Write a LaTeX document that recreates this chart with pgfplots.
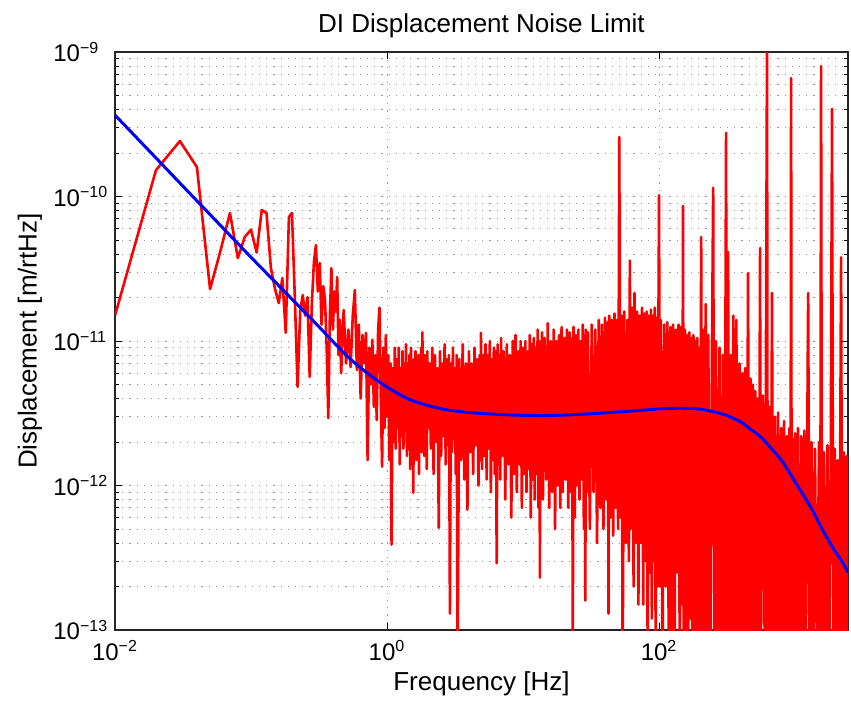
\documentclass[border=0pt]{standalone}
\usepackage{pgfplots}
\pgfplotsset{compat=1.18}
\usepackage{fontspec}
\setmainfont{Liberation Sans}
\begin{document}
\begin{tikzpicture}
\useasboundingbox (-57.5pt,-36pt) rectangle (368pt,315pt);
\begin{axis}[
  scale only axis, width=366.5pt, height=289pt,
  xmode=log, ymode=log,
  xmin=0.01, xmax=2450, ymin=1e-13, ymax=1e-9,
  xtick={0.01,1,100},
  xticklabels={10\textsuperscript{−2},10\textsuperscript{0},10\textsuperscript{2}},
  minor xtick={},
  ytick={1e-13,1e-12,1e-11,1e-10,1e-9},
  yticklabels={10\textsuperscript{−13},10\textsuperscript{−12},10\textsuperscript{−11},10\textsuperscript{−10},10\textsuperscript{−9}},
  minor ytick={2e-13,3e-13,4e-13,5e-13,6e-13,7e-13,8e-13,9e-13,
               2e-12,3e-12,4e-12,5e-12,6e-12,7e-12,8e-12,9e-12,
               2e-11,3e-11,4e-11,5e-11,6e-11,7e-11,8e-11,9e-11,
               2e-10,3e-10,4e-10,5e-10,6e-10,7e-10,8e-10,9e-10},
  xmajorgrids, ymajorgrids, yminorgrids,
  major grid style={black!40, dash pattern=on 0.6pt off 3pt, line width=0.5pt},
  minor grid style={black!40, dash pattern=on 0.6pt off 3pt, line width=0.5pt},
  tick align=inside,
  major tick length=3.5pt, minor tick length=2pt,
  every tick/.style={black, line width=0.5pt},
  axis line style={black!85, line width=0.6pt},
  ticklabel style={font=\fontsize{12}{14}\selectfont},
  xticklabel style={anchor=north, inner sep=0pt, yshift=-5pt},
  yticklabel style={anchor=west, inner sep=0pt, xshift=-31pt},
  title={DI Displacement Noise Limit},
  title style={at={(axis description cs:0.5,1.0346)}, anchor=base, yshift=-6pt, inner sep=0pt, font=\fontsize{13}{15}\selectfont},
  xlabel={Frequency [Hz]},
  xlabel style={at={(axis description cs:0.5,-0.1038)}, anchor=base, inner sep=0pt, font=\fontsize{13}{15}\selectfont},
  ylabel={Displacement [m/rtHz]},
  ylabel style={at={(axis description cs:-0.116,0.5)}, anchor=center, inner sep=0pt, font=\fontsize{13}{15}\selectfont},
]
\addplot[red, line width=1.3pt, line join=round] coordinates {
(0.01,1.5e-11)(0.02,1.52e-10)(0.03,2.42e-10)(0.04,1.6e-10)(0.05,2.29e-11)
(0.06,4.3e-11)(0.07,7.7e-11)(0.08,3.75e-11)(0.09,5.25e-11)(0.10,5.9e-11)
(0.11,4.1e-11)(0.12,8.07e-11)(0.13,7.69e-11)(0.14,3.2e-11)(0.15,2.3e-11)
(0.16,1.83e-11)(0.17,2.73e-11)(0.18,1.14e-11)(0.19,7.21e-11)(0.20,7.69e-11)
(0.21,2.0e-11)(0.22,4.81e-12)(0.23,1.6e-11)(0.24,2.08e-11)(0.25,1.5e-11)
(0.26,2.01e-11)(0.27,5.64e-12)(0.28,1.8e-11)(0.29,3.5e-11)(0.30,4.61e-11)
(0.31,2.2e-11)(0.32,3.47e-11)(0.33,1.3e-11)(0.34,2.4e-11)(0.35,1.92e-11)
(0.36,9e-12)(0.37,2.93e-12)(0.38,1.5e-11)(0.39,3.2e-11)(0.40,1.2e-11)
(0.41,2.2e-11)(0.42,1.6e-11)(0.43,2.77e-11)(0.44,8e-12)(0.45,1.4e-11)
(0.46,6e-12)(0.48,1.64e-11)(0.50,7e-12)(0.52,1.2e-11)(0.54,6.6e-12)
(0.56,1.5e-11)(0.58,2.25e-11)(0.60,6.3e-12)(0.62,1.3e-11)(0.64,4e-12)
(0.66,1.1e-11)(0.68,7e-12)(0.70,1.14e-11)(0.72,1.5e-12)(0.74,9e-12)
(0.76,5e-12)(0.78,1.02e-11)(0.80,3.5e-12)(0.82,8e-12)(0.84,2.84e-12)
(0.86,1.2e-11)(0.88,1.7e-11)(0.90,4e-12)(0.92,1.35e-12)(0.94,9e-12)
(0.96,2.5e-12)(0.98,1.1e-11)(1.00,3e-12)
(1.02,8e-12)(1.04,1.5e-12)(1.06,7e-12)(1.08,3.9e-13)(1.10,6.5e-12)
(1.12,2e-12)(1.14,9e-12)(1.16,1.8e-12)(1.18,7.5e-12)(1.20,2.5e-12)
(1.22,9e-12)(1.24,1.4e-12)(1.26,6.5e-12)(1.28,2.2e-12)(1.30,8.5e-12)
(1.32,1.8e-12)(1.34,7e-12)(1.36,2.4e-12)(1.38,9.5e-12)(1.40,1.6e-12)
(1.42,7e-12)(1.44,2.2e-12)(1.46,8e-12)(1.48,1.3e-12)(1.50,9e-12)
(1.52,2e-12)(1.54,7e-12)(1.56,8.9e-13)(1.58,7.5e-12)(1.60,2.3e-12)
(1.62,8.5e-12)(1.64,1.5e-12)(1.66,7e-12)(1.68,2.4e-12)(1.70,8e-12)
(1.72,1.2e-12)(1.74,6.5e-12)(1.76,2e-12)(1.78,9e-12)(1.80,1.7e-12)
(1.82,1.15e-11)(1.84,2.4e-12)(1.86,7.5e-12)(1.88,1.6e-12)(1.90,8e-12)
(1.92,2.2e-12)(1.94,7e-12)(1.96,1.3e-12)(1.98,8.5e-12)(2.00,2.5e-12)
(2.05,7e-12)(2.10,1.8e-12)(2.15,9e-12)(2.20,1.2e-12)(2.25,8e-12)
(2.30,2e-12)(2.35,6.5e-12)(2.40,5.1e-13)(2.45,8.5e-12)(2.50,1.6e-12)
(2.55,7e-12)(2.60,2.2e-12)(2.65,9.5e-12)(2.70,1.4e-12)(2.75,7.5e-12)
(2.80,1.9e-12)(2.85,8e-12)(2.90,1.3e-13)(2.95,7e-12)(3.00,1.7e-12)
(3.05,9e-12)(3.10,2.1e-12)(3.15,6.5e-12)(3.20,1.2e-12)(3.25,8e-12)
(3.30,5e-14)(3.4,7.5e-12)(3.5,1.5e-12)(3.6,9.5e-12)(3.7,1.1e-12)
(3.8,7e-12)(3.9,6.8e-13)(4.0,8.5e-12)(4.1,1.7e-12)(4.2,7e-12)
(4.3,1.2e-12)(4.4,9e-12)(4.5,1.9e-12)(4.6,7.5e-12)(4.7,1e-12)
(4.8,8e-12)(4.85,1.5e-12)(4.9,1.14e-11)(5.0,1.3e-12)
(5.1,8e-12)(5.2,1.6e-12)(5.3,9.5e-12)(5.4,1.1e-12)(5.5,8e-12)
(5.6,1.8e-12)(5.7,1e-11)(5.8,9e-13)(5.9,7.5e-12)(6.0,1.5e-12)
(6.1,9e-12)(6.2,1.2e-12)(6.3,8.5e-12)(6.4,2.9e-13)(6.5,9.5e-12)
(6.6,1.4e-12)(6.7,8e-12)(6.8,1.1e-12)(6.9,1.05e-11)(7.0,1.6e-12)
(7.2,8.5e-12)(7.4,8e-13)(7.6,9.5e-12)(7.8,1.4e-12)(8.0,8e-12)
(8.2,6e-13)(8.4,1e-11)(8.6,1.2e-12)(8.8,1.1e-11)(9.0,9e-13)
(9.2,8.5e-12)(9.4,1.4e-12)(9.6,1e-11)(9.8,7e-13)(10.0,9e-12)
(10.2,1.2e-12)(10.4,1e-11)(10.6,9e-13)(10.8,8.5e-12)(11.0,1.3e-12)
(11.2,1.1e-11)(11.4,6e-13)(11.6,9.5e-12)(11.8,1.1e-12)(12.0,1.05e-11)
(12.2,8e-13)(12.4,9e-12)(12.6,1.2e-12)(12.8,1.2e-11)(13.0,7e-13)
(13.2,1e-11)(13.3,2.3e-13)(13.4,9.5e-12)(13.6,1e-12)(13.8,1.15e-11)
(14.0,8e-13)(14.4,1.05e-11)(14.8,1.1e-12)(15.2,1.33e-11)(15.6,7e-13)
(16.0,1e-11)(16.4,9e-13)(16.8,1.2e-11)(17.2,5e-13)(17.6,1e-11)
(18.0,1e-12)(18.4,1.1e-11)(18.8,7e-13)(19.2,1.25e-11)(19.6,9e-13)
(20.0,1.05e-11)
(20.5,1.1e-12)(21.0,1.2e-11)(21.5,7e-13)(22.0,1.15e-11)(22.5,9e-13)
(23.0,1.05e-11)(23.2,5e-14)(23.5,1.25e-11)(24.0,6e-13)(24.5,1.1e-11)
(25.0,1e-12)(25.5,1.2e-11)(26.0,8e-13)(26.5,1e-11)(27.0,1.1e-12)
(27.5,1.3e-11)(28.0,5e-13)(28.5,1.1e-11)(28.7,1.6e-13)(29.0,1.2e-11)
(29.5,9e-13)(30.0,1.15e-11)
(31,5e-13)(32,1.3e-11)(33,9e-13)(34,1.2e-11)(35,4e-13)
(36,1.4e-11)(37,7e-13)(38,1.3e-11)(39,5e-13)(40,1.45e-11)
(41,8e-13)(42,1.35e-11)(42.5,1.3e-13)(43,1.5e-11)(44,6e-13)
(45,1.4e-11)(46,4.5e-13)(47,1.55e-11)(48,7e-13)(49,1.4e-11)
(50,5e-13)(51,2.58e-10)(52,6e-13)
(53,1.5e-11)(54,5e-14)(55.5,1.6e-11)(57,4e-13)(58.5,1.4e-11)
(60,3e-13)(61,3.6e-11)(62,5e-13)(63.5,1.7e-11)(65,2e-13)
(66,2.15e-11)(67.5,4e-13)(69,1.6e-11)(70.5,1.5e-13)(72,1.5e-11)
(73.5,4e-13)(75,1.7e-11)(76.5,1.5e-13)(78,1.55e-11)(79.5,3e-13)
(81,1.6e-11)(82.5,5e-14)(84,1.5e-11)(85.5,2.5e-13)(87,1.65e-11)
(88.5,1.2e-13)(90,1.5e-11)(91.5,3e-13)(93,1.7e-11)(94.5,5e-14)
(96,1.45e-11)(97.5,2e-13)(99,1.5e-11)(100,1.02e-10)
(101.5,2e-13)(103,1.4e-11)(106,5e-14)(109,1.3e-11)(112,2e-13)
(115,1.35e-11)(118,5e-14)(121,1.25e-11)(124,1e-13)(127,1.3e-11)
(130,5e-14)(133,1.2e-11)(136,2.5e-13)(139,1.3e-11)(142,5e-14)
(145,1.25e-11)(148,1.5e-13)(150,8.6e-11)(152,5e-14)(155,1.2e-11)
(158,1e-13)(161,1.1e-11)(164,5e-14)(167,1.15e-11)(170,1.2e-13)
(173,1.05e-11)(176,5e-14)(179,1.1e-11)(182,5e-14)(185,1e-11)
(188,5e-14)(191,1.05e-11)(194,5e-14)(197,9e-12)(200,5e-14)
(204,5.25e-11)(208,5e-14)
(210,1.2e-11)(215,5e-14)(220,1.8e-11)(225,5e-14)(230,1.1e-11)
(238,5e-14)(245,9e-12)(250,1.15e-10)(255,5e-14)(262,1e-11)
(270,5e-14)(278,9e-12)(286,5e-14)(294,8e-12)(302,5e-14)
(311,2.76e-10)(316,5e-14)(322,4.13e-11)(328,5e-14)(336,8e-12)
(344,5e-14)(352,1.5e-11)(360,5e-14)(370,1.4e-11)(380,5e-14)
(390,7e-12)(400,5e-14)(410,6e-12)(420,5e-14)(430,6.5e-12)
(440,5e-14)(451,2.95e-11)(460,5e-14)(470,5.5e-12)(480,5e-14)
(490,5e-12)(500,5e-14)
(510,4.5e-12)(520,5e-14)(530,4e-12)(540,5e-14)(553,4.4e-11)
(560,5e-14)(580,4.2e-12)(600,5e-14)(622,1.2e-9)(630,5e-14)
(650,3.5e-12)(660,5e-14)(677,2.15e-11)(690,5e-14)(710,3e-12)
(730,5e-14)(750,3.2e-12)(770,5e-14)(790,2.5e-12)(810,5e-14)
(830,2.8e-12)(850,5e-14)(870,2.2e-12)(890,5e-14)(910,2.5e-12)
(925,5e-14)(935,6.6e-10)(945,5e-14)(960,2.1e-12)(980,5e-14)
(1000,2.3e-12)
(1020,5e-14)(1050,2.5e-12)(1080,5e-14)(1110,2.2e-12)(1140,5e-14)
(1170,2.4e-12)(1200,5e-14)(1248,2.15e-11)(1280,5e-14)(1320,2e-12)
(1360,5e-14)(1400,1.8e-12)(1450,5e-14)(1500,2e-12)(1530,5e-14)
(1553,8e-10)(1580,5e-14)(1630,1.7e-12)(1680,5e-14)(1730,1.9e-12)
(1780,5e-14)(1830,1.6e-12)(1870,4.04e-10)(1910,5e-14)(1960,1.8e-12)
(2010,5e-14)(2060,1.5e-12)(2110,5e-14)(2180,3.8e-11)(2220,5e-14)
(2280,1.7e-12)(2340,5e-14)(2400,1.6e-12)(2450,5e-14)
};
\addplot[blue, line width=1.5pt, smooth] coordinates {
(0.01,3.66e-10)(0.02,1.85e-10)(0.03,1.24e-10)(0.05,7.5e-11)(0.1,3.8e-11)
(0.2,1.95e-11)(0.3,1.32e-11)(0.5,8.0e-12)(0.7,6.1e-12)(1.0,4.8e-12)
(1.5,3.9e-12)(2.5,3.4e-12)(4,3.2e-12)(8,3.08e-12)(15,3.05e-12)
(30,3.13e-12)(60,3.27e-12)(120,3.42e-12)(200,3.38e-12)(300,3.1e-12)
(400,2.75e-12)(470,2.45e-12)(550,2.2e-12)(650,1.86e-12)(800,1.48e-12)
(1000,1.06e-12)(1300,7.1e-13)(1600,4.9e-13)(1900,3.7e-13)(2200,3e-13)
(2450,2.5e-13)
};
\end{axis}
\end{tikzpicture}
\end{document}
